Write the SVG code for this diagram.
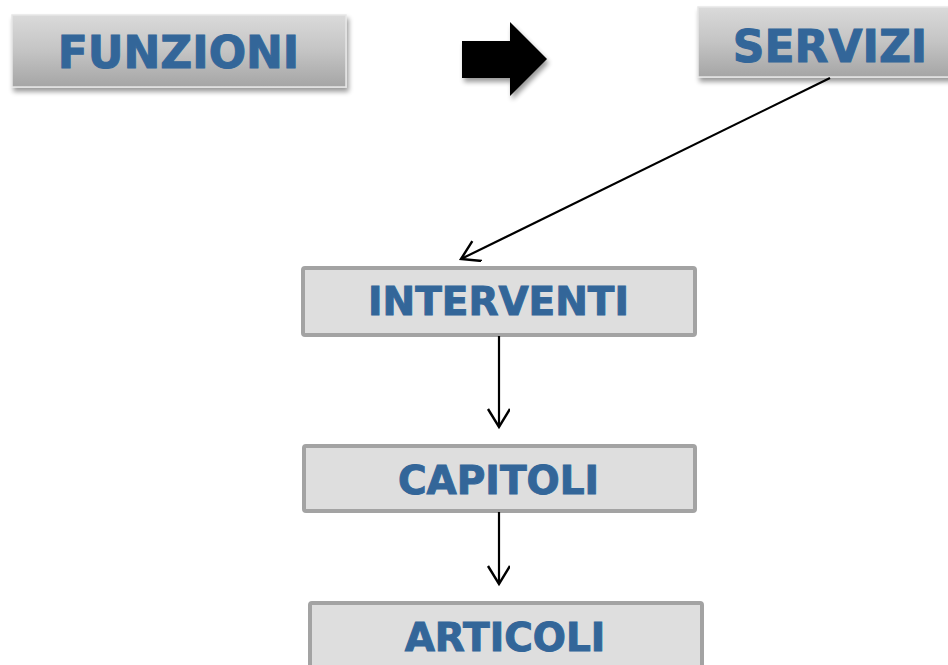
<svg xmlns="http://www.w3.org/2000/svg" width="948" height="665" viewBox="0 0 948 665">
<defs>
<linearGradient id="g" x1="0" y1="0" x2="0" y2="1">
<stop offset="0" stop-color="#dadada"/>
<stop offset="0.5" stop-color="#c4c4c4"/>
<stop offset="1" stop-color="#a5a5a5"/>
</linearGradient>
<filter id="sh" x="-10%" y="-20%" width="120%" height="160%">
<feGaussianBlur in="SourceAlpha" stdDeviation="2.5"/>
<feOffset dx="2" dy="4" result="b"/>
<feComponentTransfer><feFuncA type="linear" slope="0.4"/></feComponentTransfer>
<feMerge><feMergeNode/><feMergeNode in="SourceGraphic"/></feMerge>
</filter>
<marker id="ah" markerWidth="24" markerHeight="24" refX="19" refY="11" orient="auto" markerUnits="userSpaceOnUse">
<path d="M1,0 L19,11 L1,22" fill="none" stroke="#000" stroke-width="2.4"/>
</marker>
</defs>
<style>
.t{font-family:"DejaVu Sans",Verdana,sans-serif;font-weight:bold;fill:#336699;stroke:#336699;stroke-width:1;text-anchor:middle}
.top{fill:url(#g);stroke:#e6e6e6;stroke-width:1.5;filter:url(#sh)}
.box{fill:#dedede;stroke:#a3a3a3;stroke-width:4}
.c{stroke:#000;stroke-width:2.2;fill:none;marker-end:url(#ah)}
</style>
<rect width="948" height="665" fill="#fff"/>
<g id="funzioni">
<rect class="top" x="12" y="15" width="334" height="72"/>
<text class="t" x="178.5" y="68" font-size="44">FUNZIONI</text>
</g>
<g id="big-arrow">
<path d="M462,41 H510 V22 L547,59 L510,96 V78 H462 Z" fill="#000" filter="url(#sh)"/>
</g>
<g id="servizi">
<rect class="top" x="698" y="7" width="260" height="70"/>
<text class="t" x="830" y="62" font-size="44">SERVIZI</text>
</g>
<g id="interventi">
<rect class="box" x="303" y="268" width="392" height="67" rx="2"/>
<text class="t" x="498.5" y="315" font-size="39">INTERVENTI</text>
</g>
<g id="capitoli">
<rect class="box" x="304" y="446" width="391" height="65" rx="2"/>
<text class="t" x="498.5" y="494" font-size="39">CAPITOLI</text>
</g>
<g id="articoli">
<rect class="box" x="310" y="603" width="392" height="70" rx="2"/>
<text class="t" x="505" y="651" font-size="39">ARTICOLI</text>
</g>
<g id="connectors">
<line class="c" x1="830" y1="78" x2="461" y2="259"/>
<line class="c" x1="499" y1="336" x2="499" y2="427"/>
<line class="c" x1="499" y1="512" x2="499" y2="584"/>
</g>
</svg>
